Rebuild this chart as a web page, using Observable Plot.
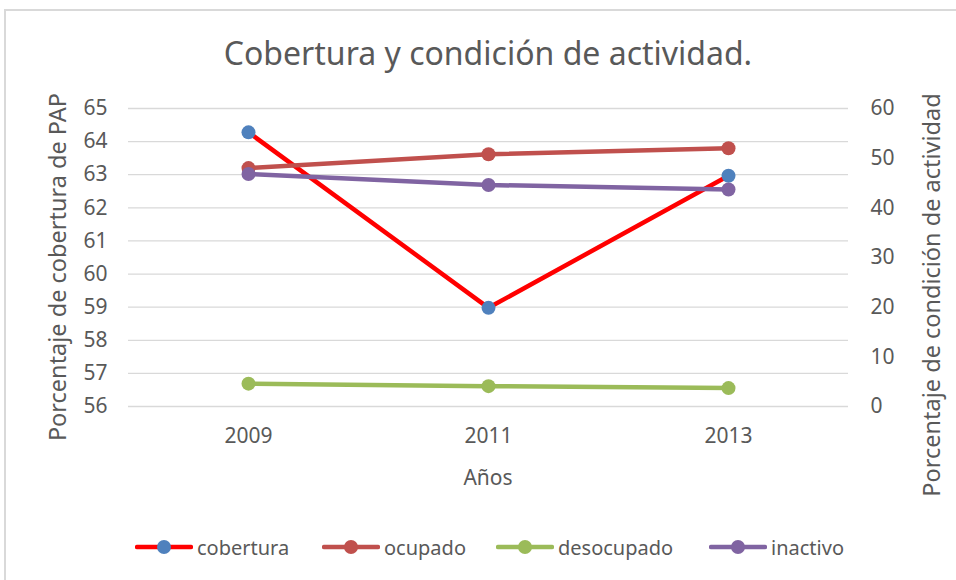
<!DOCTYPE html>
<html>
<head>
<meta charset="utf-8">
<script src="https://cdn.jsdelivr.net/npm/d3@7"></script>
<script src="https://cdn.jsdelivr.net/npm/@observablehq/plot@0.6"></script>
<style>
  html, body { margin: 0; padding: 0; background: #fff; }
  #wrap { position: relative; width: 956px; height: 580px; overflow: hidden; font-family: "Noto Sans", sans-serif; color: #595959; }
  #frame { position: absolute; left: 4px; top: 9px; right: -10px; bottom: -10px; border-left: 2px solid #d9d9d9; border-top: 2px solid #d9d9d9; }
  #title { position: absolute; left: 0; width: 976px; top: 37px; text-align: center; font-size: 32px; line-height: 32px; white-space: nowrap; }
  .rot { position: absolute; transform: translate(-50%, -50%) rotate(-90deg); white-space: nowrap; font-size: 23.5px; line-height: 23.5px; }
  #xlab { position: absolute; transform: translate(-50%, -50%); font-size: 21px; line-height: 21px; white-space: nowrap; }
  #chart { position: absolute; left: 0; top: 0; }
  .leg { position: absolute; top: 533px; height: 28px; display: flex; align-items: center; font-size: 20px; white-space: nowrap; }
  .leg svg { margin-right: 4px; }
</style>
</head>
<body>
<div id="wrap">
  <div id="frame"></div>
  <div id="chart"></div>
  <div id="title">Cobertura y condición de actividad.</div>
  <div class="rot" id="ylabL" style="left:58px; top:267px;">Porcentaje de cobertura de PAP</div>
  <div class="rot" id="ylabR" style="left:932px; top:295px;">Porcentaje de condición de actividad</div>
  <div id="xlab" style="left:488px; top:477px;">Años</div>
  <div id="legend"></div>
</div>
<script>
// ---- data ----
const years = ["2009", "2011", "2013"];
const cobertura = [64.28, 58.98, 62.97];   // left axis (56–65)
const ocupado = [48.0, 50.8, 52.0];        // right axis (0–60)
const desocupado = [4.6, 4.1, 3.7];        // right axis
const inactivo = [46.8, 44.6, 43.7];       // right axis
const leftTicks = [56, 57, 58, 59, 60, 61, 62, 63, 64, 65];
const rightTicks = [0, 10, 20, 30, 40, 50, 60];
const seriesNames = ["cobertura", "ocupado", "desocupado", "inactivo"];
const lineColors = ["#FF0000", "#C0504D", "#9BBB59", "#8064A2"];
const dotColors = ["#4F81BD", "#C0504D", "#9BBB59", "#8064A2"];

// map right-axis values onto the left scale
const L0 = 56, L1 = 65, R0 = 0, R1 = 60;
const r2l = v => L0 + (v - R0) * (L1 - L0) / (R1 - R0);
const l2r = v => R0 + (v - L0) * (R1 - R0) / (L1 - L0);

const rows = [];
const seriesVals = [cobertura, ocupado, desocupado, inactivo];
seriesVals.forEach((vals, si) => {
  vals.forEach((v, i) => {
    rows.push({ year: years[i], series: seriesNames[si], value: v, y: si === 0 ? v : r2l(v) });
  });
});

const marks = [
  Plot.gridY(leftTicks, { stroke: "#d9d9d9", strokeOpacity: 1, strokeWidth: 1.3 }),
  Plot.axisY(leftTicks, { anchor: "left", tickSize: 0, tickPadding: 21, label: null, fontSize: 21, fill: "#595959" }),
  Plot.axisY(rightTicks.map(r2l), { anchor: "right", tickSize: 0, tickPadding: 22, label: null, fontSize: 21, fill: "#595959",
    tickFormat: v => String(Math.round(l2r(v))), textAnchor: "start" }),
  Plot.axisX(years, { anchor: "bottom", tickSize: 0, tickPadding: 22, label: null, fontSize: 21, fill: "#595959" })
];
seriesNames.forEach((s, si) => {
  const d = rows.filter(r => r.series === s);
  marks.push(Plot.line(d, { x: "year", y: "y", stroke: lineColors[si], strokeWidth: 4.5, strokeLinecap: "round", strokeLinejoin: "round" }));
  marks.push(Plot.dot(d, { x: "year", y: "y", r: 7, fill: dotColors[si], stroke: "none" }));
});

const chart = Plot.plot({
  width: 956,
  height: 580,
  marginTop: 108,
  marginBottom: 174,
  marginLeft: 128,
  marginRight: 108,
  style: { fontFamily: "Noto Sans, sans-serif", fontSize: "21px", color: "#595959", background: "transparent", overflow: "visible" },
  x: { type: "point", domain: years, padding: 0.5, axis: null },
  y: { domain: [L0, L1], axis: null },
  marks
});
document.getElementById("chart").appendChild(chart);

// ---- legend ----
const legendX = [135, 322, 496, 709];
const legend = document.getElementById("legend");
seriesNames.forEach((s, si) => {
  const item = document.createElement("div");
  item.className = "leg";
  item.style.left = legendX[si] + "px";
  item.innerHTML =
    `<svg width="58" height="20" viewBox="0 0 58 20">
       <line x1="2" y1="10" x2="56" y2="10" stroke="${lineColors[si]}" stroke-width="4.5" stroke-linecap="round"/>
       <circle cx="29" cy="10" r="7" fill="${dotColors[si]}"/>
     </svg><span>${s}</span>`;
  legend.appendChild(item);
});
</script>
</body>
</html>
